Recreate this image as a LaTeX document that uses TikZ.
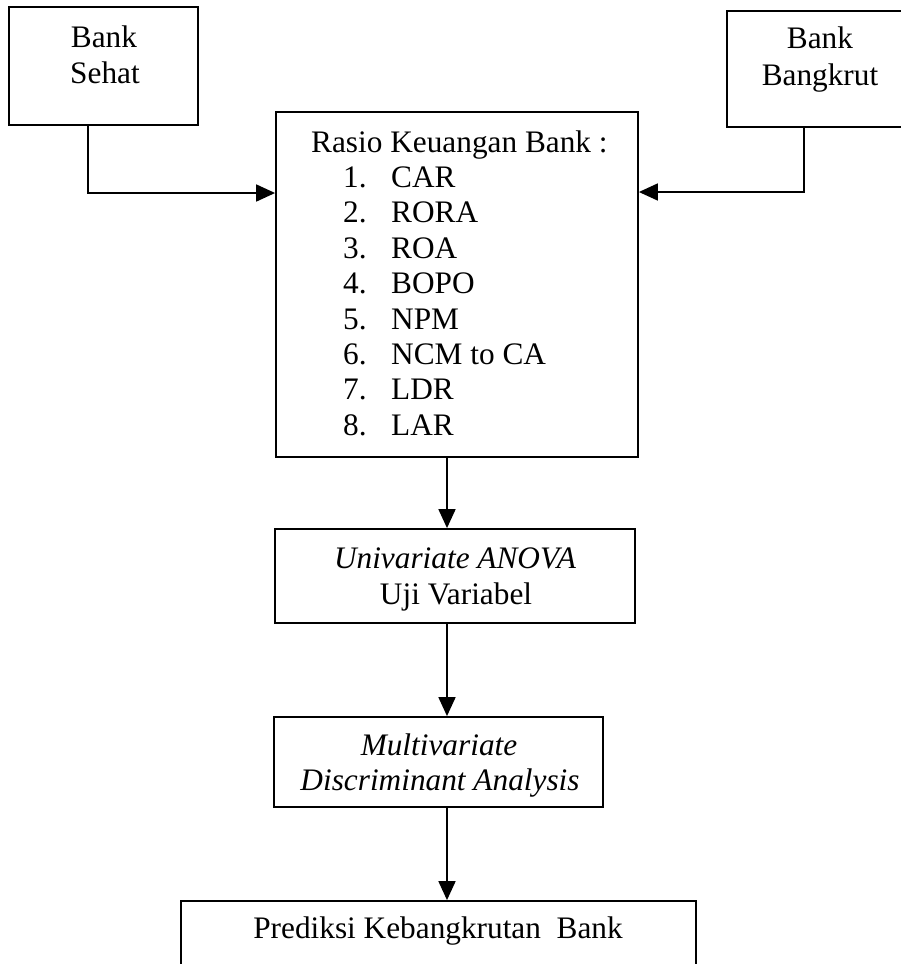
\documentclass[tikz,border=0pt]{standalone}
\usepackage{fontspec}
\setmainfont{Liberation Serif}
\usetikzlibrary{arrows.meta}
\begin{document}
\begin{tikzpicture}[x=1pt,y=-1pt,
  box/.style={draw, line width=1.8pt, inner sep=0pt},
  lbl/.style={anchor=base, inner sep=0pt, font=\fontsize{31.3}{36}\selectfont},
  lblw/.style={lbl, anchor=base west},
  flow/.style={line width=1.8pt, -{Triangle[length=19pt,width=17pt]}}]
\useasboundingbox (0,0) rectangle (901,964);
\clip (0,0) rectangle (901,964);

% boxes
\node[box, minimum width=189pt, minimum height=118pt] (sehat) at (103.5,66) {};
\node[box, minimum width=183pt, minimum height=116pt] (bangkrut) at (818.5,69) {};
\node[box, minimum width=362pt, minimum height=345pt] (rasio) at (457,284.5) {};
\node[box, minimum width=360pt, minimum height=94pt] (uni) at (455,576) {};
\node[box, minimum width=329pt, minimum height=90pt] (multi) at (438.5,762) {};
\node[box, minimum width=515pt, minimum height=89pt] (pred) at (438.5,945.5) {};

% box texts
\node[lbl] (sehatA) at (104,47) {Bank};
\node[lbl] (sehatB) at (105,83) {Sehat};
\node[lbl] (bangA) at (820,48) {Bank};
\node[lbl] (bangB) at (820,85) {Bangkrut};

\node[lblw] (rasioT) at (311,152) {Rasio Keuangan Bank :};
\foreach \n/\t [count=\i] in {1/CAR,2/RORA,3/ROA,4/BOPO,5/NPM,6/NCM to CA,7/LDR,8/LAR}{
  \node[lblw] (num\i) at (343,{152+35.4*\i}) {\n.};
  \node[lblw] (item\i) at (391,{152+35.4*\i}) {\t};
}

\node[lbl] (uniA) at (455,568) {\itshape Univariate ANOVA};
\node[lbl] (uniB) at (456,604) {Uji Variabel};
\node[lbl] (multiA) at (439,755) {\itshape Multivariate};
\node[lbl] (multiB) at (440,790) {\itshape Discriminant Analysis};
\node[lbl] (predA) at (438,938) {Prediksi Kebangkrutan\ \ Bank};

% connectors
\draw[flow] (sehat.south -| 88,0) |- (rasio.west |- 0,193);
\draw[flow] (bangkrut.south -| 804,0) |- (rasio.east |- 0,192);
\draw[flow] (rasio.south -| 447,0) -- (uni.north -| 447,0);
\draw[flow] (uni.south -| 447,0) -- (multi.north -| 447,0);
\draw[flow] (multi.south -| 447,0) -- (pred.north -| 447,0);
\end{tikzpicture}
\end{document}
